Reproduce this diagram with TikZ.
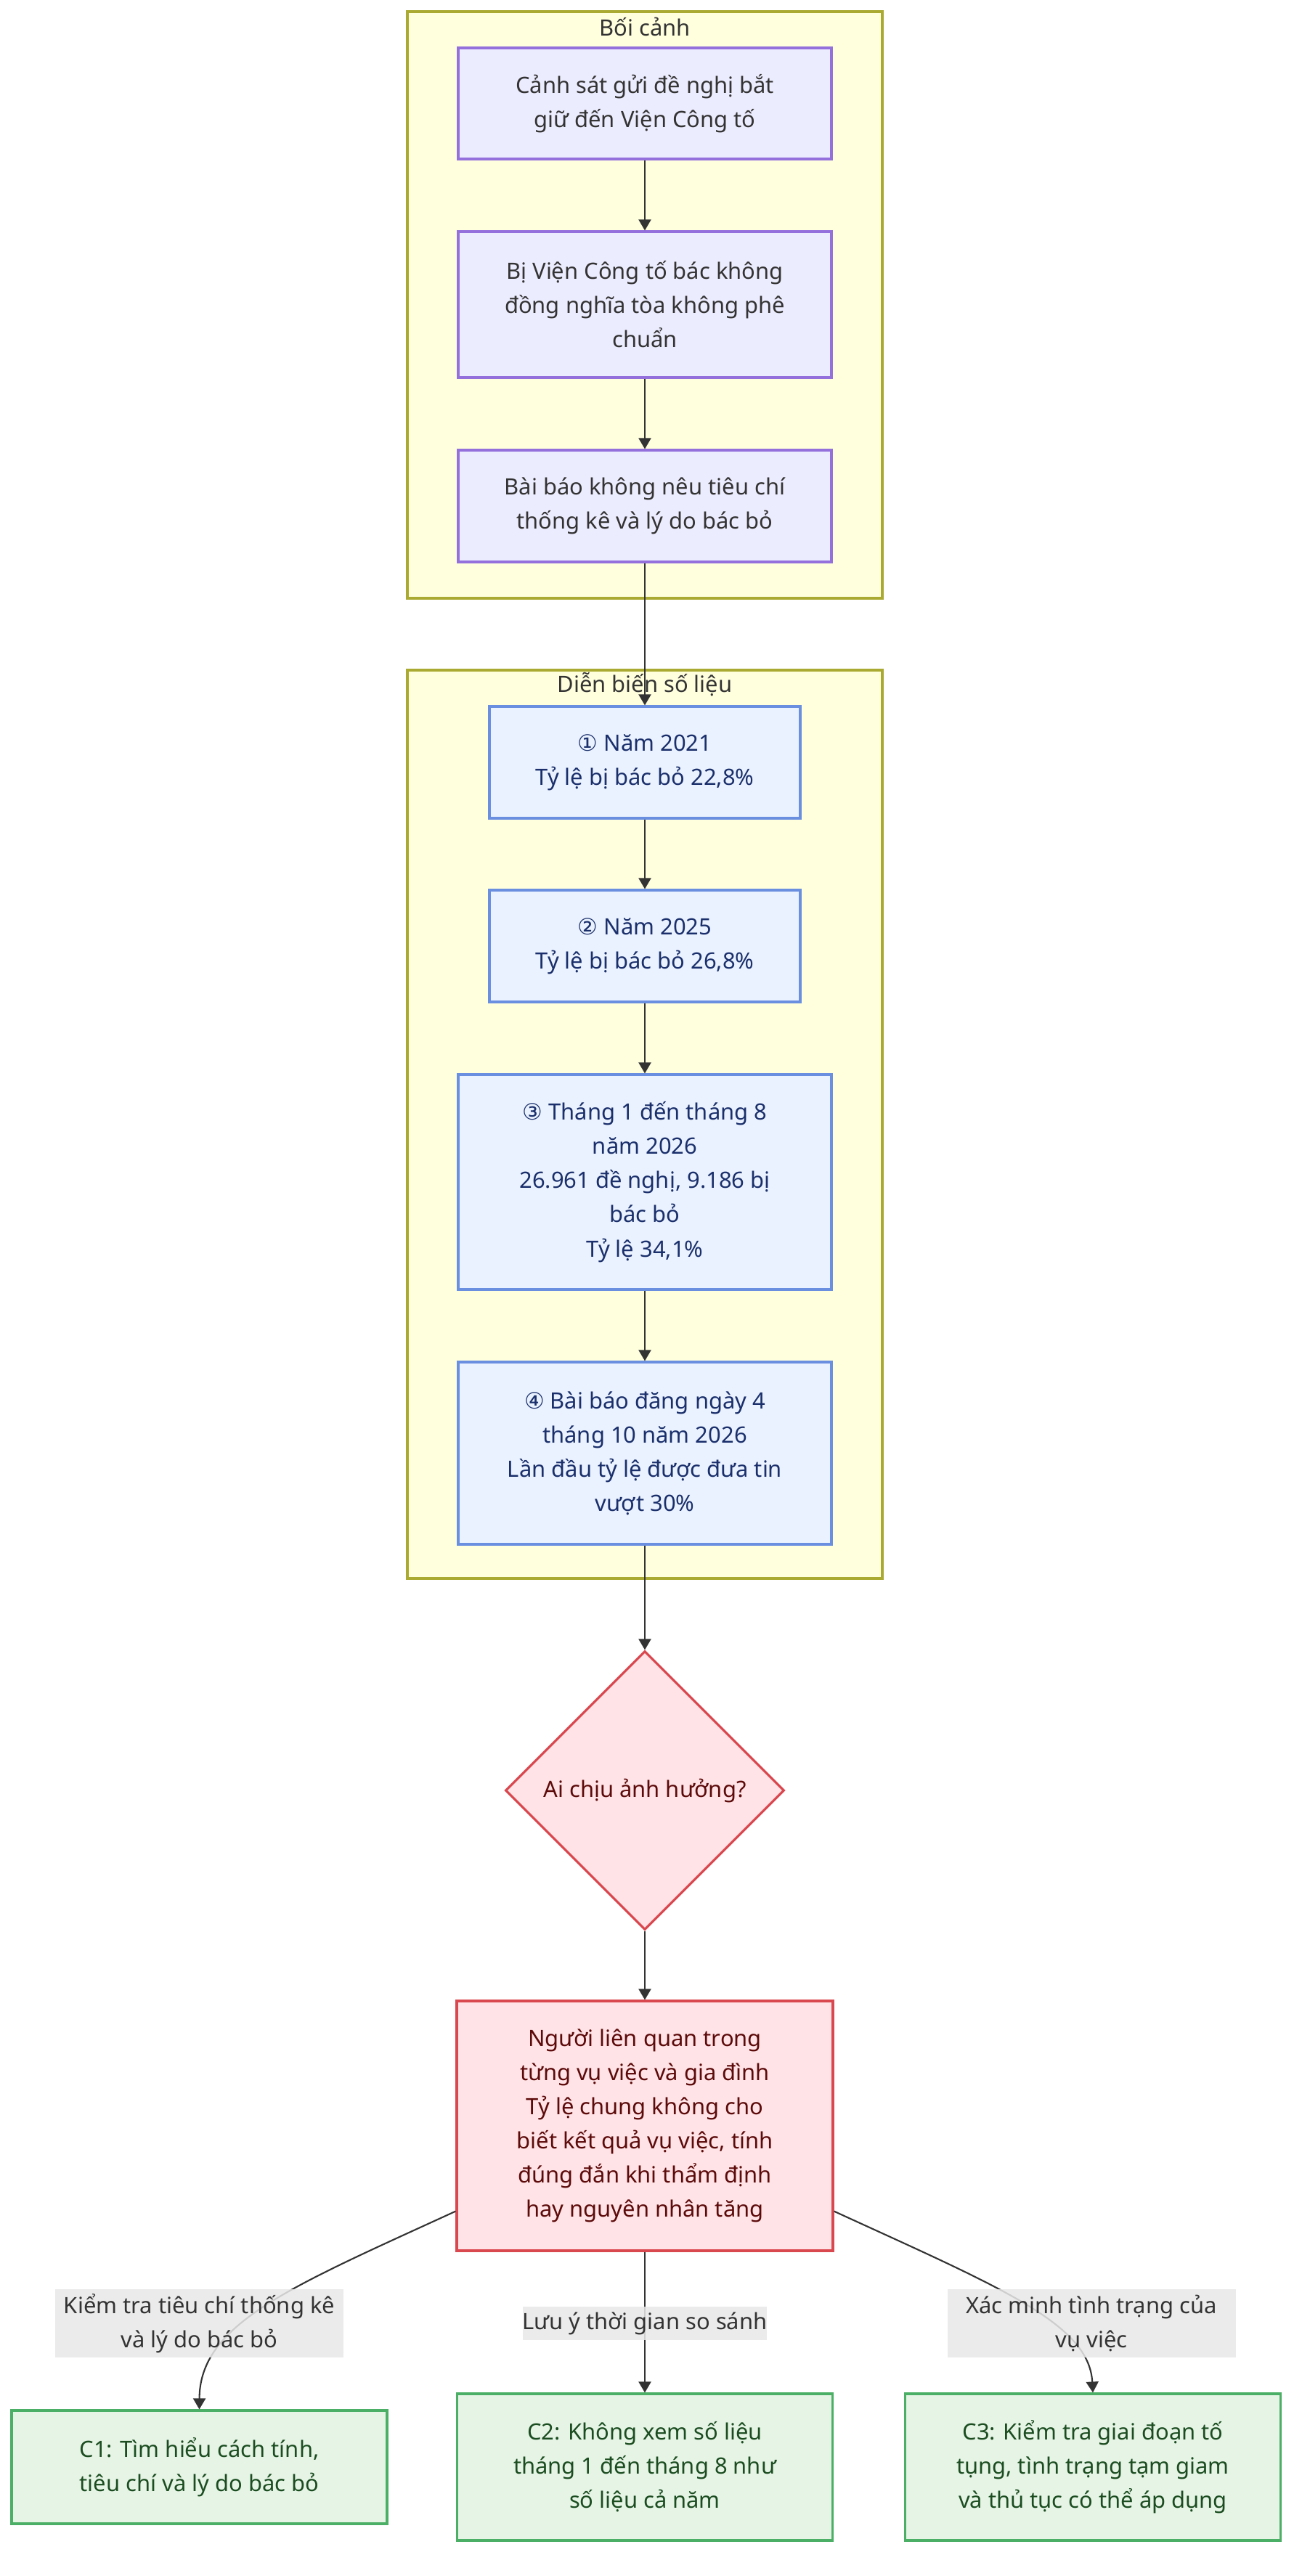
\documentclass[tikz,border=0pt]{standalone}
\usepackage{fontspec}
\setmainfont{Noto Sans}
\newfontfamily\circfont{DejaVu Sans}
\usetikzlibrary{shapes.geometric,arrows.meta}
\definecolor{grpfill}{HTML}{FFFFDE}
\definecolor{grpline}{HTML}{AAAA33}
\definecolor{ctxfill}{HTML}{ECECFF}
\definecolor{ctxline}{HTML}{9370DB}
\definecolor{datfill}{HTML}{EAF2FF}
\definecolor{datline}{HTML}{6A8FE0}
\definecolor{dattext}{HTML}{1A2F6B}
\definecolor{redfill}{HTML}{FFE3E6}
\definecolor{redline}{HTML}{D9474F}
\definecolor{redtext}{HTML}{5C0A0A}
\definecolor{grnfill}{HTML}{E6F4E6}
\definecolor{grnline}{HTML}{4CAF66}
\definecolor{grntext}{HTML}{1B4D20}
\definecolor{lblfill}{HTML}{E8E8E8}
\definecolor{ink}{HTML}{333333}
\newcommand{\nfont}{\fontsize{8.8pt}{13.4pt}\selectfont}
\begin{document}
\begin{tikzpicture}[grp/.style={draw=grpline, fill=grpfill, line width=0.9pt},
    grptitle/.style={font=\nfont, text=ink},
    ctxbox/.style={draw=ctxline, fill=ctxfill, text=ink, line width=0.9pt, align=center, font=\nfont, inner sep=0pt, minimum width=5.14cm},
    datbox/.style={draw=datline, fill=datfill, text=dattext, line width=0.9pt, align=center, font=\nfont, inner sep=0pt},
    redbox/.style={draw=redline, fill=redfill, text=redtext, line width=0.9pt, align=center, font=\nfont, inner sep=0pt},
    grnbox/.style={draw=grnline, fill=grnfill, text=grntext, line width=0.9pt, align=center, font=\nfont, inner sep=0pt, minimum width=5.17cm},
    lbl/.style={fill=lblfill, fill opacity=0.85, text opacity=1, text=ink, align=center, font=\nfont, inner sep=0pt},
    link/.style={draw=ink, line width=0.6pt, ->},
    >={Triangle[length=0.15cm,width=0.17cm]}]
  \useasboundingbox[fill=white] (0,0) rectangle (17.92,-35.48);
  \path[grp] (5.61,-0.16) rectangle (12.15,-8.24);
  \node[grptitle] (ctxt) at (8.88,-0.37) {Bối cảnh};
  \node[ctxbox,minimum height=1.53cm] (a1) at (8.88,-1.425) {Cảnh sát gửi đề nghị bắt\\giữ đến Viện Công tố};
  \node[ctxbox,minimum height=2.01cm] (a2) at (8.88,-4.195) {Bị Viện Công tố bác không\\đồng nghĩa tòa không phê\\chuẩn};
  \node[ctxbox,minimum height=1.54cm] (a3) at (8.88,-6.97) {Bài báo không nêu tiêu chí\\thống kê và lý do bác bỏ};
  \path[grp] (5.61,-9.23) rectangle (12.15,-21.74);
  \node[grptitle] (datt) at (8.88,-9.43) {Diễn biến số liệu};
  \node[datbox,minimum width=4.28cm,minimum height=1.54cm] (b1) at (8.88,-10.50) {{\circfont ①} Năm 2021\\Tỷ lệ bị bác bỏ 22,8\%};
  \node[datbox,minimum width=4.28cm,minimum height=1.54cm] (b2) at (8.88,-13.03) {{\circfont ②} Năm 2025\\Tỷ lệ bị bác bỏ 26,8\%};
  \node[datbox,minimum width=5.14cm,minimum height=2.96cm] (b3) at (8.88,-16.28) {{\circfont ③} Tháng 1 đến tháng 8\\năm 2026\\26.961 đề nghị, 9.186 bị\\bác bỏ\\Tỷ lệ 34,1\%};
  \node[datbox,minimum width=5.14cm,minimum height=2.51cm] (b4) at (8.88,-20.015) {{\circfont ④} Bài báo đăng ngày 4\\tháng 10 năm 2026\\Lần đầu tỷ lệ được đưa tin\\vượt 30\%};
  \node[redbox,diamond,minimum width=3.84cm,minimum height=3.84cm] (who) at (8.88,-24.66) {Ai chịu ảnh hưởng?};
  \node[redbox,minimum width=5.18cm,minimum height=3.44cm] (hit) at (8.88,-29.28) {Người liên quan trong\\từng vụ việc và gia đình\\Tỷ lệ chung không cho\\biết kết quả vụ việc, tính\\đúng đắn khi thẩm định\\hay nguyên nhân tăng};
  \node[grnbox,minimum height=1.56cm] (c1) at (2.745,-33.98) {C1: Tìm hiểu cách tính,\\tiêu chí và lý do bác bỏ};
  \node[grnbox,minimum height=2.02cm] (c2) at (8.88,-33.98) {C2: Không xem số liệu\\tháng 1 đến tháng 8 như\\số liệu cả năm};
  \node[grnbox,minimum height=2.02cm] (c3) at (15.05,-33.98) {C3: Kiểm tra giai đoạn tố\\tụng, tình trạng tạm giam\\và thủ tục có thể áp dụng};
  \coordinate (hitl) at ([yshift=0.56cm]hit.south west);
  \coordinate (hitr) at ([yshift=0.56cm]hit.south east);
  \draw[link] (a1) -- (a2);
  \draw[link] (a2) -- (a3);
  \draw[link] (a3) -- (b1);
  \draw[link] (b1) -- (b2);
  \draw[link] (b2) -- (b3);
  \draw[link] (b3) -- (b4);
  \draw[link] (b4) -- (who);
  \draw[link] (who) -- (hit);
  \draw[link] (hit) -- (c2);
  \draw[link] (hitl) .. controls (4.0,-31.5) and (2.75,-32.0) .. (c1.north);
  \draw[link] (hitr) .. controls (13.76,-31.5) and (15.0,-32.0) .. (c3.north);
  \node[lbl,minimum width=3.97cm,minimum height=0.94cm] (l1) at (2.745,-32.0) {Kiểm tra tiêu chí thống kê\\và lý do bác bỏ};
  \node[lbl,minimum width=3.35cm,minimum height=0.46cm] (l2) at (8.88,-32.0) {Lưu ý thời gian so sánh};
  \node[lbl,minimum width=3.97cm,minimum height=0.94cm] (l3) at (15.03,-32.0) {Xác minh tình trạng của\\vụ việc};
\end{tikzpicture}
\end{document}
